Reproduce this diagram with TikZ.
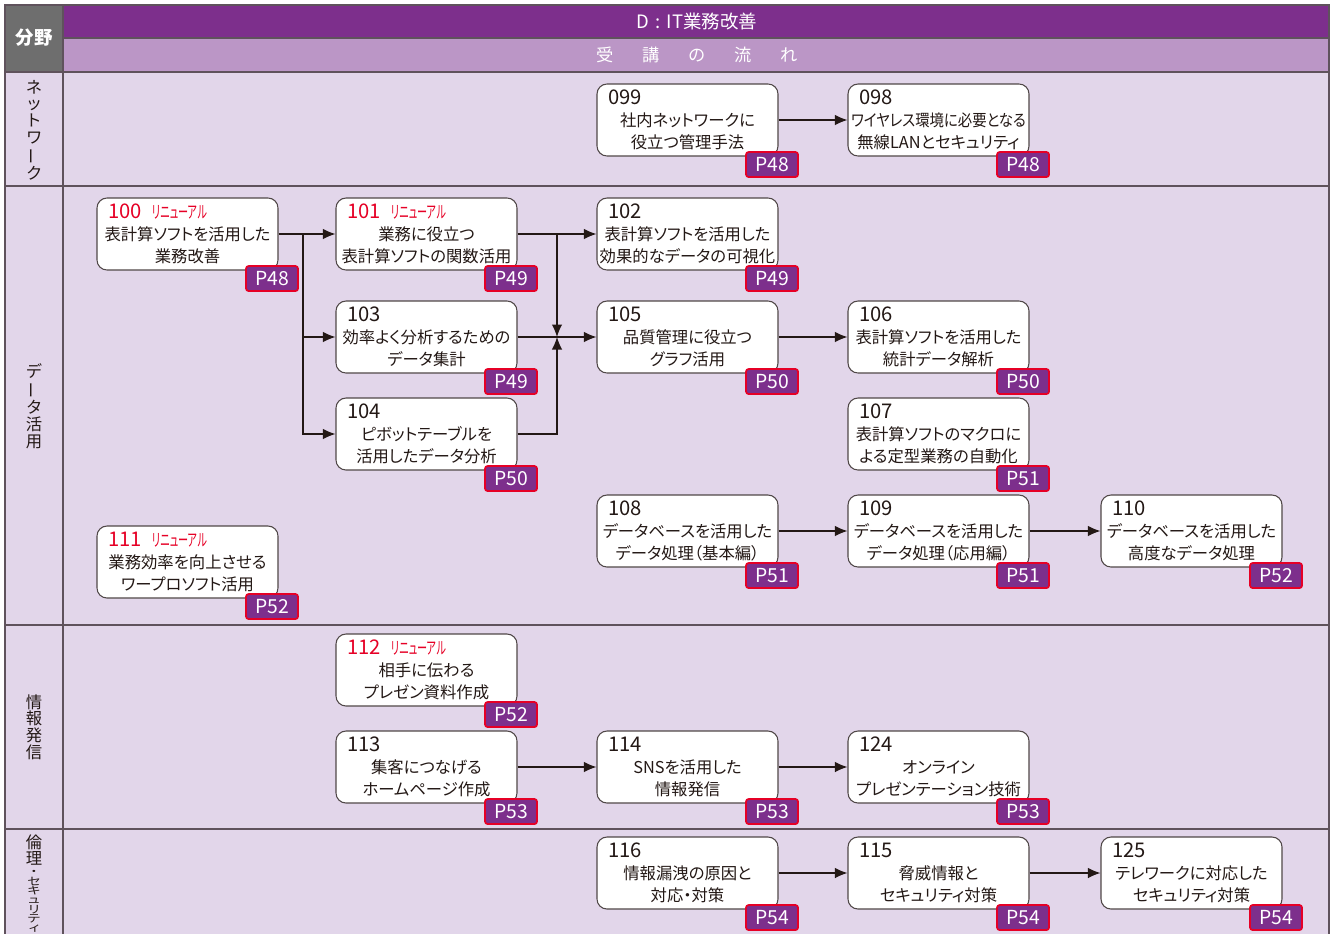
\documentclass[tikz,border=0pt]{standalone}
\usepackage{fontspec}
\setmainfont[RawFeature=+palt]{Noto Sans CJK JP}
\newfontfamily\jpfull{Noto Sans CJK JP}
\usepackage{xcolor}
\usepackage{graphicx}
\usepackage{tikz}
\usetikzlibrary{arrows.meta, positioning, calc}
\definecolor{headpurple}{RGB}{125,47,140}
\definecolor{headlight}{RGB}{187,150,198}
\definecolor{rowbg}{RGB}{226,214,234}
\definecolor{cellgray}{RGB}{110,110,110}
\definecolor{gridline}{RGB}{95,82,92}
\definecolor{boxline}{RGB}{80,72,72}
\definecolor{newred}{RGB}{230,0,38}
\definecolor{txtdark}{RGB}{35,24,21}
\newcommand{\numtxt}{\fontsize{11.5}{12}\selectfont}
\newcommand{\rnew}[1]{\textcolor{newred}{#1\hspace{0.22cm}\scalebox{0.5}[0.85]{リニューアル}}}
\newcommand{\vbar}{\rotatebox[origin=c]{90}{ー}}
\newcommand{\kana}[1]{\scalebox{1}[0.78]{\fontsize{7.8}{7.8}\selectfont #1}}
\tikzset{
  course/.style={rectangle,draw=boxline,line width=0.6pt,fill=white,rounded corners=0.2cm,
    minimum width=3.62cm,minimum height=1.44cm,inner xsep=1pt,inner ysep=2pt,align=center,text=txtdark,
    font=\fontsize{9.3}{12.5}\selectfont},
  badge/.style={rectangle,draw=newred,line width=1pt,fill=headpurple,rounded corners=1.5pt,
    minimum width=1.04cm,minimum height=0.5cm,inner sep=0pt,text=white,
    font=\fontsize{11}{11}\selectfont,anchor=center,xshift=-0.13cm,yshift=-0.16cm},
  flow/.style={draw=txtdark,line width=0.7pt,-{Latex[length=2.5mm,width=2.1mm]}},
  sidetxt/.style={align=center,inner sep=0pt,text=txtdark,font=\fontsize{9.3}{9.5}\selectfont},
  headtxt/.style={text=white,inner sep=0pt,font=\fontsize{9.8}{10}\selectfont}
}

\begin{document}
\begin{tikzpicture}[x=0.2mm,y=-0.2mm]
    \useasboundingbox (0,0) rectangle (1330,933);
    \clip (0,0) rectangle (1330,933);

    % table
    \fill[rowbg] (5,72) rectangle (1329,960);
    \fill[cellgray] (5,5) rectangle (63,72);
    \fill[headpurple] (63,5) rectangle (1329,38);
    \fill[headlight] (63,38) rectangle (1329,72);
    \draw[gridline,line width=0.8pt] (5,5) rectangle (1329,960)
        (63,5) -- (63,960) (63,38) -- (1329,38) (5,72) -- (1329,72)
        (5,186) -- (1329,186) (5,625) -- (1329,625) (5,829) -- (1329,829);

    \node[headtxt,font=\fontsize{10.5}{11}\selectfont\bfseries] (field) at (34,38) {分野};
    \node[headtxt,font=\fontsize{10.5}{11}\selectfont] (title) at (697,21) {\jpfull D\hspace{0.12cm}:\hspace{0.12cm}IT業務改善};
    \node[headtxt] (flowhead) at (697,55) {受\hspace{0.58cm}講\hspace{0.58cm}の\hspace{0.58cm}流\hspace{0.58cm}れ};

    \node[sidetxt] (lnet) at (34,130) {ネ\\ッ\\ト\\ワ\\\vbar\\ク};
    \node[sidetxt] (ldata) at (34,406) {デ\\\vbar\\タ\\活\\用};
    \node[sidetxt] (linfo) at (34,727) {情\\報\\発\\信};
    \node[sidetxt,anchor=north] (lethic) at (34,834) {倫\\理\\[-3.2pt]\kana{・}\\[-4.2pt]\kana{セ}\\[-4.2pt]\kana{キ}\\[-4.2pt]\kana{ュ}\\[-4.2pt]\kana{リ}\\[-4.2pt]\kana{テ}\\[-4.2pt]\kana{ィ}};

    % ネットワーク
    \node[course,label={[badge]south east:P48}] (b099) at (687.5,120) {\makebox[3.18cm][l]{\numtxt 099}\\社内ネットワークに\\役立つ管理手法};
    \node[course,label={[badge]south east:P48}] (b098) at (938.5,120) {\makebox[3.18cm][l]{\numtxt 098}\\\makebox[3.4cm][c]{\scalebox{0.88}[1]{ワイヤレス環境に必要となる}}\\無線LANとセキュリティ};

    % データ活用
    \node[course,label={[badge]south east:P48}] (b100) at (187.5,234) {\makebox[3.18cm][l]{\numtxt\rnew{100}}\\表計算ソフトを活用した\\業務改善};
    \node[course,label={[badge]south east:P49}] (b101) at (426.5,234) {\makebox[3.18cm][l]{\numtxt\rnew{101}}\\業務に役立つ\\表計算ソフトの関数活用};
    \node[course,label={[badge]south east:P49}] (b102) at (687.5,234) {\makebox[3.18cm][l]{\numtxt 102}\\表計算ソフトを活用した\\\makebox[3.4cm][c]{効果的なデータの可視化}};
    \node[course,label={[badge]south east:P49}] (b103) at (426.5,337) {\makebox[3.18cm][l]{\numtxt 103}\\効率よく分析するための\\データ集計};
    \node[course,label={[badge]south east:P50}] (b105) at (687.5,337) {\makebox[3.18cm][l]{\numtxt 105}\\品質管理に役立つ\\グラフ活用};
    \node[course,label={[badge]south east:P50}] (b106) at (938.5,337) {\makebox[3.18cm][l]{\numtxt 106}\\表計算ソフトを活用した\\統計データ解析};
    \node[course,label={[badge]south east:P50}] (b104) at (426.5,434) {\makebox[3.18cm][l]{\numtxt 104}\\ピボットテーブルを\\活用したデータ分析};
    \node[course,label={[badge]south east:P51}] (b107) at (938.5,434) {\makebox[3.18cm][l]{\numtxt 107}\\表計算ソフトのマクロに\\よる定型業務の自動化};
    \node[course,label={[badge]south east:P51}] (b108) at (687.5,531) {\makebox[3.18cm][l]{\numtxt 108}\\データベースを活用した\\データ処理（基本編）};
    \node[course,label={[badge]south east:P51}] (b109) at (938.5,531) {\makebox[3.18cm][l]{\numtxt 109}\\データベースを活用した\\データ処理（応用編）};
    \node[course,label={[badge]south east:P52}] (b110) at (1191.5,531) {\makebox[3.18cm][l]{\numtxt 110}\\データベースを活用した\\高度なデータ処理};
    \node[course,label={[badge]south east:P52}] (b111) at (187.5,562) {\makebox[3.18cm][l]{\numtxt\rnew{111}}\\業務効率を向上させる\\ワープロソフト活用};

    % 情報発信
    \node[course,label={[badge]south east:P52}] (b112) at (426.5,670) {\makebox[3.18cm][l]{\numtxt\rnew{112}}\\相手に伝わる\\プレゼン資料作成};
    \node[course,label={[badge]south east:P53}] (b113) at (426.5,767) {\makebox[3.18cm][l]{\numtxt 113}\\集客につなげる\\ホームページ作成};
    \node[course,label={[badge]south east:P53}] (b114) at (687.5,767) {\makebox[3.18cm][l]{\numtxt 114}\\SNSを活用した\\情報発信};
    \node[course,label={[badge]south east:P53}] (b124) at (938.5,767) {\makebox[3.18cm][l]{\numtxt 124}\\オンライン\\プレゼンテーション技術};

    % 倫理・セキュリティ
    \node[course,label={[badge]south east:P54}] (b116) at (687.5,873) {\makebox[3.18cm][l]{\numtxt 116}\\情報漏洩の原因と\\対応・対策};
    \node[course,label={[badge]south east:P54}] (b115) at (938.5,873) {\makebox[3.18cm][l]{\numtxt 115}\\脅威情報と\\セキュリティ対策};
    \node[course,label={[badge]south east:P54}] (b125) at (1191.5,873) {\makebox[3.18cm][l]{\numtxt 125}\\テレワークに対応した\\セキュリティ対策};

    % 流れ
    \coordinate (split) at (303,234);
    \coordinate (fork) at (557,234);
    \coordinate (merge) at (557,337);
    \draw[flow] (b099) -- (b098);
    \draw[flow] (b100) -- (b101);
    \draw[flow] (split) |- (b103);
    \draw[flow] (split) |- (b104);
    \draw[flow] (b101) -- (b102);
    \draw[flow] (fork) -- (merge);
    \draw[flow] (b104) -| (merge);
    \draw[flow] (b103) -- (b105);
    \draw[flow] (b105) -- (b106);
    \draw[flow] (b108) -- (b109);
    \draw[flow] (b109) -- (b110);
    \draw[flow] (b113) -- (b114);
    \draw[flow] (b114) -- (b124);
    \draw[flow] (b116) -- (b115);
    \draw[flow] (b115) -- (b125);
\end{tikzpicture}
\end{document}
